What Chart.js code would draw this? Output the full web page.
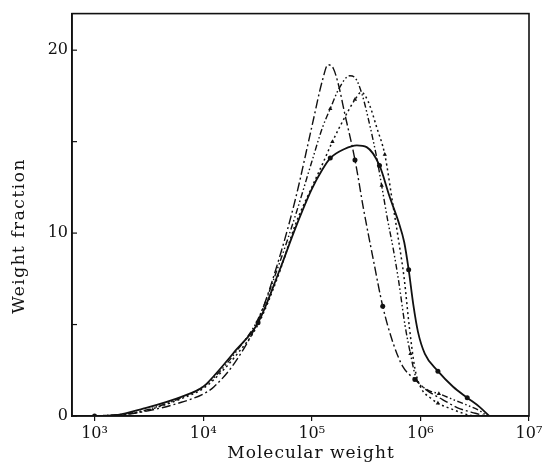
<!DOCTYPE html>
<html>
<head>
<meta charset="utf-8">
<script src="https://cdn.jsdelivr.net/npm/chart.js@4"></script>
<style>
  html, body { margin: 0; padding: 0; background: #fff; }
  #wrap { width: 546px; height: 468px; }
</style>
</head>
<body>
<div id="wrap"><canvas id="chart" width="546" height="468"></canvas></div>
<script>
// --- axis ticks ---
const decadeTicks = [1e3, 1e4, 1e5, 1e6, 1e7];
const decadeLabels = ['10³', '10⁴', '10⁵', '10⁶', '10⁷'];
const yTicks = [0, 5, 10, 15, 20];
const yLabels = ['0', '', '10', '', '20'];

// --- curve A: dash-dot, tallest peak ---
const mwA = [1e3, 2.0e3, 3.2e3, 6.3e3, 1.0e4, 1.26e4, 2.0e4, 3.2e4, 5.0e4, 7.1e4, 1.0e5, 1.26e5, 1.41e5, 1.58e5, 1.78e5, 2.0e5, 2.5e5, 3.0e5, 3.7e5, 4.5e5, 5.6e5, 6.9e5, 8.9e5, 1.15e6, 1.6e6, 2.2e6, 3.2e6, 4.0e6];
const wfA = [0, 0.1, 0.3, 0.75, 1.2, 1.6, 3.0, 5.2, 8.6, 11.9, 15.8, 18.4, 19.2, 19.0, 18.0, 16.6, 14.0, 11.3, 8.5, 6.0, 4.0, 2.7, 2.0, 1.4, 0.9, 0.45, 0.15, 0];
const markA = [2.5e5, 4.5e5, 8.9e5];

// --- curve B: dash-dot-dot with triangles ---
const mwB = [1e3, 2.0e3, 3.2e3, 6.3e3, 1.0e4, 1.26e4, 2.0e4, 3.2e4, 5.0e4, 7.1e4, 1.0e5, 1.26e5, 1.48e5, 1.78e5, 2.24e5, 2.5e5, 2.9e5, 3.3e5, 4.0e5, 4.4e5, 5.0e5, 5.6e5, 6.3e5, 7.2e5, 8.1e5, 9.1e5, 1.15e6, 1.48e6, 2.0e6, 2.8e6, 3.6e6, 4.1e6];
const wfB = [0, 0.12, 0.38, 1.0, 1.6, 2.1, 3.5, 5.3, 8.3, 11.0, 13.9, 15.8, 16.8, 17.9, 18.6, 18.5, 17.6, 16.3, 14.0, 12.6, 10.7, 9.2, 7.4, 5.0, 3.4, 2.1, 1.45, 1.22, 0.9, 0.55, 0.25, 0];
const markB = [1.48e5, 4.4e5, 8.1e5, 1.48e6];

// --- curve C: dotted with triangles ---
const mwC = [1e3, 2.0e3, 3.2e3, 6.3e3, 1.0e4, 1.26e4, 2.0e4, 3.2e4, 5.0e4, 7.1e4, 1.0e5, 1.26e5, 1.55e5, 2.0e5, 2.5e5, 2.85e5, 3.3e5, 4.0e5, 4.7e5, 5.6e5, 6.3e5, 7.1e5, 7.9e5, 8.9e5, 1.0e6, 1.26e6, 1.45e6, 2.0e6, 2.8e6, 3.2e6];
const wfC = [0, 0.1, 0.35, 0.95, 1.5, 2.0, 3.3, 5.0, 7.8, 10.5, 12.5, 13.8, 15.0, 16.3, 17.3, 17.7, 17.2, 15.7, 14.3, 11.5, 9.6, 7.5, 4.9, 2.6, 1.6, 0.95, 0.7, 0.35, 0.05, 0];
const markC = [1.55e5, 2.5e5, 4.7e5, 1.45e6];

// --- curve D: solid with dots ---
const mwD = [1e3, 1.6e3, 2.8e3, 6.3e3, 1.0e4, 1.26e4, 2.0e4, 3.2e4, 5.0e4, 7.1e4, 1.0e5, 1.26e5, 1.48e5, 2.0e5, 2.6e5, 3.2e5, 4.2e5, 5.2e5, 6.3e5, 7.1e5, 7.8e5, 8.6e5, 9.5e5, 1.1e6, 1.45e6, 2.0e6, 2.7e6, 3.5e6, 4.3e6];
const wfD = [0, 0.05, 0.4, 1.05, 1.6, 2.2, 3.6, 5.1, 7.9, 10.3, 12.4, 13.5, 14.1, 14.6, 14.8, 14.7, 13.7, 12.0, 10.6, 9.5, 8.0, 6.1, 4.6, 3.4, 2.45, 1.6, 1.0, 0.5, 0];
const markD = [1e3, 3.2e4, 1.48e5, 4.2e5, 7.8e5, 1.45e6, 2.7e6];

const ink = '#111';

function pairs(xs, ys) {
    return xs.map((x, i) => ({ x: x, y: ys[i] }));
}

function curve(xs, ys, marks, dash, width, style) {
    return {
        data: pairs(xs, ys),
        borderColor: ink,
        backgroundColor: ink,
        borderWidth: width,
        borderDash: dash,
        cubicInterpolationMode: 'monotone',
        pointStyle: style,
        pointRadius: ctx => (ctx.raw && marks.includes(ctx.raw.x)) ? 2.5 : 0,
        pointBorderWidth: 0,
        pointBackgroundColor: ink
    };
}

// frame, inner y ticks and axis titles
const framePlugin = {
    id: 'frame',
    afterDraw(chart) {
        const { ctx, chartArea: a, scales } = chart;
        ctx.save();
        ctx.strokeStyle = ink;
        ctx.lineWidth = 1.6;
        ctx.strokeRect(a.left, a.top, a.right - a.left, a.bottom - a.top);

        ctx.lineWidth = 1.2;
        yTicks.forEach(v => {
            const y = scales.y.getPixelForValue(v);
            ctx.beginPath();
            ctx.moveTo(a.left, y);
            ctx.lineTo(a.left + 5, y);
            ctx.stroke();
        });

        ctx.fillStyle = ink;
        ctx.font = '17px "DejaVu Serif"';
        ctx.letterSpacing = '1px';
        ctx.textAlign = 'center';
        ctx.textBaseline = 'middle';
        ctx.fillText('Molecular weight', 311, 454);

        ctx.translate(20, 236);
        ctx.rotate(-Math.PI / 2);
        ctx.letterSpacing = '1.5px';
        ctx.fillText('Weight fraction', 0, 0);
        ctx.restore();
    }
};

new Chart(document.getElementById('chart'), {
    type: 'line',
    data: {
        datasets: [
            curve(mwD, wfD, markD, [], 1.8, 'circle'),
            curve(mwC, wfC, markC, [2, 3], 1.5, 'triangle'),
            curve(mwB, wfB, markB, [6, 2.5, 1.5, 2.5, 1.5, 2.5], 1.4, 'triangle'),
            curve(mwA, wfA, markA, [9, 3, 2, 3], 1.4, 'circle')
        ]
    },
    options: {
        responsive: false,
        animation: false,
        layout: { padding: { left: 0, right: 17, top: 13, bottom: 0 } },
        plugins: {
            legend: { display: false },
            tooltip: { enabled: false }
        },
        scales: {
            x: {
                type: 'logarithmic',
                min: 620,
                max: 1e7,
                afterBuildTicks: s => { s.ticks = decadeTicks.map(v => ({ value: v })); },
                afterFit: s => { s.height = 52; },
                ticks: {
                    callback: (v, i) => decadeLabels[i],
                    color: ink,
                    font: { family: '"DejaVu Serif"', size: 16 },
                    padding: 3,
                    maxRotation: 0,
                    autoSkip: false
                },
                grid: { drawOnChartArea: false, drawTicks: true, tickLength: 5, color: ink, lineWidth: 1.2 },
                border: { display: true, color: ink, width: 1.6 }
            },
            y: {
                min: 0,
                max: 22,
                afterBuildTicks: s => { s.ticks = yTicks.map(v => ({ value: v })); },
                afterFit: s => { s.width = 72; },
                ticks: {
                    callback: (v, i) => yLabels[i],
                    color: ink,
                    font: { family: '"DejaVu Serif"', size: 16 },
                    padding: 4
                },
                grid: { display: true, drawOnChartArea: false, drawTicks: false },
                border: { display: true, color: ink, width: 1.6 }
            }
        }
    },
    plugins: [framePlugin]
});
</script>
</body>
</html>
